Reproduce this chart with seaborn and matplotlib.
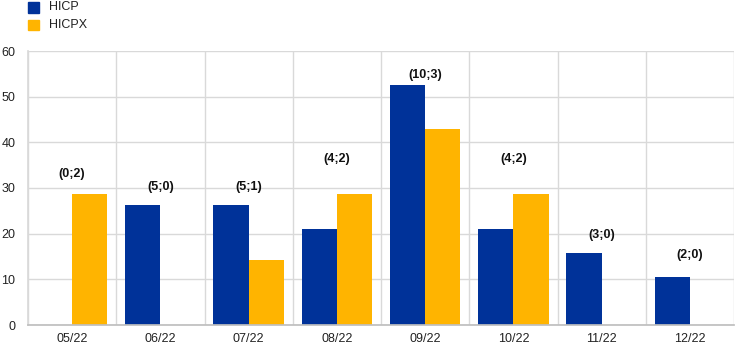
import matplotlib
matplotlib.use("Agg")
import matplotlib.pyplot as plt
import seaborn as sns
import pandas as pd
import numpy as np
from matplotlib.patches import Rectangle

months = ["05/22", "06/22", "07/22", "08/22", "09/22", "10/22", "11/22", "12/22"]
hicp = [0.0, 26.3, 26.3, 21.05, 52.6, 21.05, 15.8, 10.5]
hicpx = [28.6, 0.0, 14.3, 28.6, 42.9, 28.6, 0.0, 0.0]
labels = ["(0;2)", "(5;0)", "(5;1)", "(4;2)", "(10;3)", "(4;2)", "(3;0)", "(2;0)"]
label_y = [33.1, 30.3, 30.3, 36.4, 54.7, 36.4, 19.7, 15.3]

sns.set_theme(style="white")
plt.rcParams['font.family'] = ['Liberation Sans', 'DejaVu Sans']

df = pd.DataFrame({
    "month": months * 2,
    "value": hicp + hicpx,
    "series": ["HICP"] * len(months) + ["HICPX"] * len(months),
})

fig = plt.figure(figsize=(7.44, 3.53), dpi=100)
ax = fig.add_axes([28/744, 1-325/353, (734-28)/744, (325-51)/353])

palette = {"HICP": "#003299", "HICPX": "#FFB400"}
sns.barplot(data=df, x="month", y="value", hue="series", palette=palette,
            width=0.8, ax=ax, linewidth=0, saturation=1, legend=False)

ax.set_xlim(-0.5, len(months) - 0.5)
ax.set_ylim(0, 60)
ax.set_yticks(range(0, 61, 10))
ax.set_xlabel("")
ax.set_ylabel("")
ax.set_xticks(range(len(months)))
ax.set_xticklabels(months)
ax.set_xticks(np.arange(-0.5, len(months), 1), minor=True)
ax.tick_params(axis="both", which="both", length=0, labelsize=9, colors="#222222")
ax.tick_params(axis="x", pad=6)
ax.tick_params(axis="y", pad=9)
ax.grid(axis="y", which="major", color="#d9d9d9", linewidth=1)
ax.grid(axis="x", which="minor", color="#d9d9d9", linewidth=1)
ax.grid(axis="x", which="major", visible=False)
ax.set_axisbelow(True)
for s in ["top", "right"]:
    ax.spines[s].set_visible(False)
ax.spines["left"].set_color("#d9d9d9")
ax.spines["bottom"].set_color("#bfbfbf")

for i, (t, y) in enumerate(zip(labels, label_y)):
    ax.text(i, y, t, ha="center", va="center", fontsize=9, fontweight="bold", color="#111111")

# legend
for j, (name, col) in enumerate(palette.items()):
    yy = 1 - (7.5 + 17 * j) / 353
    fig.patches.append(Rectangle((28/744, yy - 5/353), 11/744, 10/353,
                                 transform=fig.transFigure, color=col, figure=fig))
    fig.text(49/744, yy, name, fontsize=9, va="center", ha="left", color="#222222")

fig.savefig("out.png", dpi=100)
